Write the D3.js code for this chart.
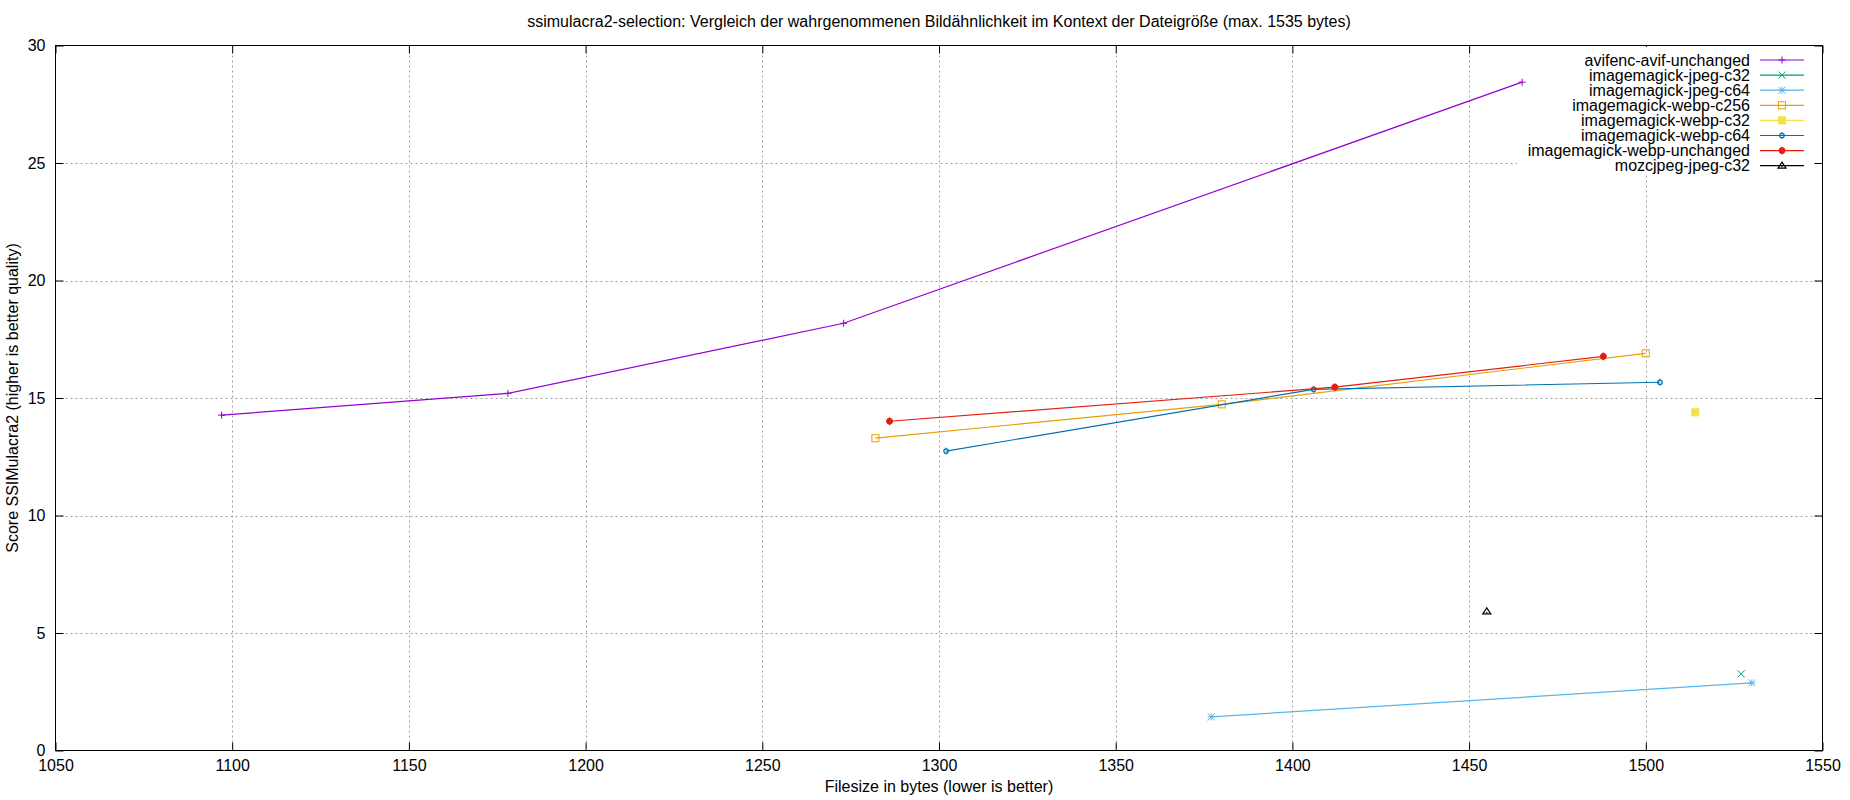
<!DOCTYPE html>
<html><head><meta charset="utf-8">
<script src="https://cdn.jsdelivr.net/npm/d3@7"></script>
<style>
html,body{margin:0;padding:0;background:#fff;}
text{font-family:"Liberation Sans",Arial,sans-serif;font-size:16px;fill:#000;}
</style></head>
<body>
<svg id="c" width="1850" height="800"></svg>
<script>
const titleText = "ssimulacra2-selection: Vergleich der wahrgenommenen Bildähnlichkeit im Kontext der Dateigröße (max. 1535 bytes)";
const xLabel = "Filesize in bytes (lower is better)";
const yLabel = "Score SSIMulacra2 (higher is better quality)";
const xTicks = [1050,1100,1150,1200,1250,1300,1350,1400,1450,1500,1550];
const yTicks = [0,5,10,15,20,25,30];

const seriesNames = ["avifenc-avif-unchanged","imagemagick-jpeg-c32","imagemagick-jpeg-c64","imagemagick-webp-c256","imagemagick-webp-c32","imagemagick-webp-c64","imagemagick-webp-unchanged","mozcjpeg-jpeg-c32"];
const seriesColors = ["#9400d3","#009e73","#56b4e9","#e69f00","#f0e442","#0072b2","#e51e10","#000000"];
const seriesMarkers = ["plus","cross","star","square","fsquare","circle","fcircle","triangle"];

const avifX = [1097,1178,1273,1465];
const avifY = [14.27,15.20,18.18,28.44];
const jpegC32X = [1527];
const jpegC32Y = [3.26];
const jpegC64X = [1377,1530];
const jpegC64Y = [1.43,2.88];
const webpC256X = [1282,1380,1500];
const webpC256Y = [13.29,14.73,16.90];
const webpC32X = [1514];
const webpC32Y = [14.39];
const webpC64X = [1302,1406,1504];
const webpC64Y = [12.74,15.37,15.67];
const webpUnchX = [1286,1412,1488];
const webpUnchY = [14.01,15.46,16.77];
const mozX = [1455];
const mozY = [5.92];

const seriesX = [avifX,jpegC32X,jpegC64X,webpC256X,webpC32X,webpC64X,webpUnchX,mozX];
const seriesY = [avifY,jpegC32Y,jpegC64Y,webpC256Y,webpC32Y,webpC64Y,webpUnchY,mozY];

const svg = d3.select("#c");
const L = 55.5, R = 1822.5, T = 45.5, B = 750.5;
const x = d3.scaleLinear().domain([1050,1550]).range([L,R]);
const y = d3.scaleLinear().domain([0,30]).range([B,T]);

// grid
const grid = svg.append("g").attr("stroke","#a0a0a0").attr("stroke-width",1).attr("stroke-dasharray","2,3");
xTicks.slice(1,-1).forEach(t=>grid.append("line").attr("x1",Math.round(x(t))+0.5).attr("x2",Math.round(x(t))+0.5).attr("y1",T).attr("y2",B));
yTicks.slice(1,-1).forEach(t=>grid.append("line").attr("y1",Math.round(y(t))+0.5).attr("y2",Math.round(y(t))+0.5).attr("x1",L).attr("x2",R));

// axes with inward ticks (mirrored)
const tk = 8;
const axB = svg.append("g").attr("transform",`translate(0,${B})`)
  .call(d3.axisBottom(x).tickValues(xTicks).tickSize(-tk).tickPadding(9).tickFormat(d3.format("d")));
const axT = svg.append("g").attr("transform",`translate(0,${T})`)
  .call(d3.axisTop(x).tickValues(xTicks).tickSize(-tk).tickFormat(""));
const axL = svg.append("g").attr("transform",`translate(${L},0)`)
  .call(d3.axisLeft(y).tickValues(yTicks).tickSize(-tk).tickPadding(10).tickFormat(d3.format("d")));
const axRt = svg.append("g").attr("transform",`translate(${R},0)`)
  .call(d3.axisRight(y).tickValues(yTicks).tickSize(-tk).tickFormat(""));
[axB,axT,axL,axRt].forEach(a=>{
  a.selectAll(".domain").remove();
  a.selectAll(".tick line").attr("stroke","#000");
  a.selectAll("text").attr("font-family","Liberation Sans, Arial, sans-serif").attr("font-size",16).attr("fill","#000");
});
axB.selectAll("text").attr("dy","0.71em");

// legend background (opaque key)
svg.append("rect").attr("x",1517).attr("y",47).attr("width",296).attr("height",126).attr("fill","#fff");

// border
svg.append("rect").attr("x",L).attr("y",T).attr("width",R-L).attr("height",B-T).attr("fill","none").attr("stroke","#000").attr("stroke-width",1);

function marker(g,type,cx,cy,color){
  const s=3.5;
  if(type==="plus"){
    g.append("path").attr("d",`M${cx-s},${cy}H${cx+s}M${cx},${cy-s}V${cy+s}`).attr("stroke",color).attr("fill","none");
  } else if(type==="cross"){
    g.append("path").attr("d",`M${cx-s},${cy-s}L${cx+s},${cy+s}M${cx-s},${cy+s}L${cx+s},${cy-s}`).attr("stroke",color).attr("fill","none");
  } else if(type==="star"){
    g.append("path").attr("d",`M${cx-s},${cy}H${cx+s}M${cx},${cy-s}V${cy+s}M${cx-s},${cy-s}L${cx+s},${cy+s}M${cx-s},${cy+s}L${cx+s},${cy-s}`).attr("stroke",color).attr("fill","none");
  } else if(type==="square"){
    g.append("rect").attr("x",cx-s).attr("y",cy-s).attr("width",2*s).attr("height",2*s).attr("stroke",color).attr("fill","none");
  } else if(type==="fsquare"){
    g.append("rect").attr("x",cx-s).attr("y",cy-s).attr("width",2*s).attr("height",2*s).attr("stroke",color).attr("fill",color);
  } else if(type==="circle"){
    g.append("circle").attr("cx",cx).attr("cy",cy).attr("r",2.2).attr("stroke",color).attr("stroke-width",1.3).attr("fill","none");
    g.append("path").attr("d",`M${cx},${cy-s}V${cy-2}M${cx},${cy+2}V${cy+s}`).attr("stroke",color).attr("fill","none");
  } else if(type==="fcircle"){
    g.append("circle").attr("cx",cx).attr("cy",cy).attr("r",3).attr("stroke",color).attr("fill",color);
    g.append("path").attr("d",`M${cx},${cy-s-0.5}V${cy+s+0.5}`).attr("stroke",color).attr("fill","none");
  } else if(type==="triangle"){
    g.append("path").attr("d",`M${cx},${cy-s}L${cx+s+0.5},${cy+s-1}L${cx-s-0.5},${cy+s-1}Z`).attr("stroke",color).attr("fill","none").attr("stroke-width",1.2);
    g.append("circle").attr("cx",cx).attr("cy",cy+1).attr("r",0.7).attr("fill",color);
  }
}

// series
const line = d3.line().x(d=>x(d[0])).y(d=>y(d[1]));
seriesNames.forEach((n,i)=>{
  const pts = seriesX[i].map((v,j)=>[v,seriesY[i][j]]);
  const g = svg.append("g");
  if(pts.length>1) g.append("path").datum(pts).attr("d",line).attr("fill","none").attr("stroke",seriesColors[i]).attr("stroke-width",1.2);
  pts.forEach(p=>marker(g,seriesMarkers[i],x(p[0]),y(p[1]),seriesColors[i]));
});

// legend
seriesNames.forEach((n,i)=>{
  const ly = 60 + i*15.1;
  svg.append("text").attr("x",1750).attr("y",ly).attr("dy","0.35em").attr("text-anchor","end").text(n);
  svg.append("line").attr("x1",1760).attr("x2",1804).attr("y1",ly).attr("y2",ly).attr("stroke",seriesColors[i]).attr("stroke-width",1.2);
  marker(svg.append("g"),seriesMarkers[i],1782,ly,seriesColors[i]);
});

// titles
svg.append("text").attr("x",(L+R)/2).attr("y",21).attr("dy","0.35em").attr("text-anchor","middle").text(titleText);
svg.append("text").attr("x",(L+R)/2).attr("y",786).attr("dy","0.35em").attr("text-anchor","middle").text(xLabel);
svg.append("text").attr("transform",`translate(12,${(T+B)/2}) rotate(-90)`).attr("dy","0.35em").attr("text-anchor","middle").text(yLabel);
</script>
</body></html>
